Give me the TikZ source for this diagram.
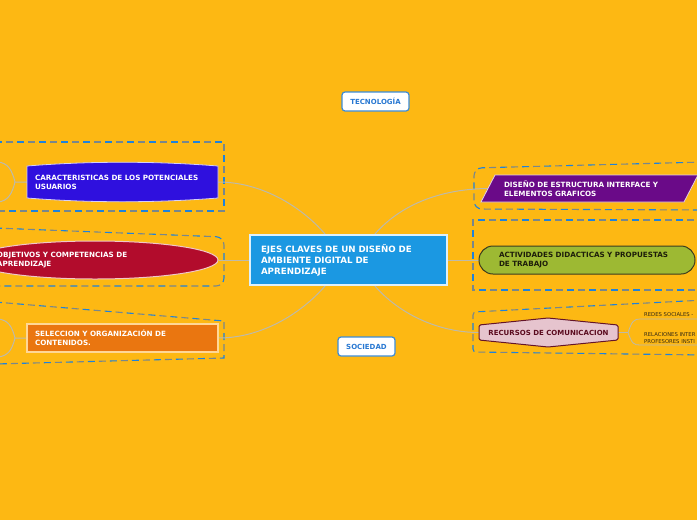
\documentclass[tikz,border=0pt]{standalone}
\usepackage{fontspec}
\setmainfont{DejaVu Sans}
\usetikzlibrary{shapes.geometric,calc}
\definecolor{bgcol}{RGB}{253,184,19}
\definecolor{centralcol}{RGB}{27,152,226}
\definecolor{cAcol}{RGB}{47,16,222}
\definecolor{cBcol}{RGB}{178,12,44}
\definecolor{cBborder}{RGB}{240,200,200}
\definecolor{cCcol}{RGB}{234,118,16}
\definecolor{cCborder}{RGB}{255,215,150}
\definecolor{cDcol}{RGB}{106,10,136}
\definecolor{cEcol}{RGB}{157,185,51}
\definecolor{cEborder}{RGB}{60,60,30}
\definecolor{cEtext}{RGB}{30,30,10}
\definecolor{cFcol}{RGB}{230,196,206}
\definecolor{cFborder}{RGB}{100,20,40}
\definecolor{cFtext}{RGB}{90,10,30}
\definecolor{conncol}{RGB}{190,186,170}
\definecolor{dashblue}{RGB}{30,130,220}
\definecolor{dashgrey}{RGB}{120,135,140}
\definecolor{tagblue}{RGB}{60,140,215}
\definecolor{tagtext}{RGB}{40,120,210}
\definecolor{smalltext}{RGB}{50,40,20}
\pgfdeclarelayer{bg}
\pgfdeclarelayer{lines}
\pgfsetlayers{bg,lines,main}
\begin{document}
\begin{tikzpicture}[x=1pt,y=-1pt,
  conn/.style={draw=conncol, line width=1pt},
  dashbox/.style={draw=dashgrey, line width=1.1pt, dash pattern=on 7pt off 15pt, dash phase=11pt,
    preaction={draw=dashblue, line width=1.1pt, dash pattern=on 7pt off 15pt, dash phase=0pt}},
  txt/.style={font=\bfseries\fontsize{7.2}{9}\selectfont, align=left, inner sep=0pt, text width=#1},
  tagbox/.style={draw=tagblue, fill=white, line width=1.2pt, rounded corners=3pt, text=tagtext,
    font=\bfseries\fontsize{7}{8}\selectfont, inner sep=0pt},
  small/.style={font=\fontsize{5.3}{7}\selectfont, text=smalltext, inner sep=0pt, align=left}
]
\useasboundingbox (0,0) rectangle (697,520);
\begin{pgfonlayer}{bg}
\fill[bgcol] (0,0) rectangle (697,520);
\path[dashbox] (-5,142) -- (224,142) -- (224,211) -- (-5,211);
\path[dashbox, rounded corners=8pt] (-5,228) -- (224,237) -- (224,286) -- (-5,286);
\path[dashbox] (-5,302) -- (224,321) -- (224,358) -- (-5,364);
\path[dashbox, rounded corners=8pt] (705,162) -- (474,168) -- (474,209) -- (705,210);
\path[dashbox] (705,220) -- (473,220) -- (473,290) -- (705,290);
\path[dashbox, rounded corners=3pt] (705,300) -- (473,312) -- (473,352) -- (705,355);
\end{pgfonlayer}

% central
\node[fill=centralcol, draw=white!85!centralcol, line width=1.2pt, minimum width=197pt, minimum height=50pt,
  inner sep=0pt, text=white, font=\bfseries\fontsize{8.7}{11}\selectfont, align=left, text width=175pt]
  (center) at (348.5,260) {EJES CLAVES DE UN DISEÑO DE\\AMBIENTE DIGITAL DE\\APRENDIZAJE};

% left 1
\fill[cAcol, draw=white!80!cAcol, line width=0.8pt] (27,166) .. controls (90,161) and (155,161) .. (218,166)
  -- (218,198) .. controls (155,203) and (90,203) .. (27,198) -- cycle;
\node[txt=175pt, text=white, minimum width=191pt, minimum height=37pt] (cA) at (122.5,182) {CARACTERISTICAS DE LOS POTENCIALES\\USUARIOS};

% left 2
\node[ellipse, fill=cBcol, draw=cBborder, line width=1pt, minimum width=246pt, minimum height=38pt, inner sep=0pt] (cB) at (95,260) {};
\node[txt=196pt, text=white] (cBt) at (95,260.5) {OBJETIVOS Y COMPETENCIAS DE\\APRENDIZAJE};

% left 3
\node[fill=cCcol, draw=cCborder, line width=1.2pt, minimum width=191pt, minimum height=28pt, txt=175pt, text=white] (cC) at (122.5,338) {SELECCION Y ORGANIZACIÓN DE\\CONTENIDOS.};

% right 1
\fill[cDcol, draw=white!80!cDcol, line width=0.8pt] (481,202) -- (495,175) -- (698,175) -- (684,202) -- cycle;
\node[txt=177pt, text=white, minimum width=209pt, minimum height=27pt] (cD) at (592.5,188.5) {DISEÑO DE ESTRUCTURA INTERFACE Y\\ELEMENTOS GRAFICOS};

% right 2
\node[fill=cEcol, draw=cEborder, line width=1pt, rounded corners=14pt, minimum width=216pt, minimum height=28pt, txt=176pt, text=cEtext] (cE) at (587,260) {ACTIVIDADES DIDACTICAS Y PROPUESTAS\\DE TRABAJO};

% right 3
\fill[cFcol, draw=cFborder, line width=1pt, rounded corners=1.5pt] (479,325) -- (548,318) -- (618,325) -- (618,340) -- (548,347) -- (479,340) -- cycle;
\node[font=\bfseries\fontsize{7}{9}\selectfont, text=cFtext, minimum width=139pt, minimum height=22pt, inner sep=0pt] (cF) at (548.5,332.5) {RECURSOS DE COMUNICACION};

\node[small, anchor=base west] (r1) at (644,316) {REDES SOCIALES -};
\node[small, anchor=west] (r2) at (644,337.8) {RELACIONES INTER\\PROFESORES INSTI};

% floating tags
\node[tagbox, minimum width=67pt, minimum height=19pt] (tec) at (375.5,101.5) {TECNOLOGÍA};
\node[tagbox, minimum width=57pt, minimum height=19pt] (soc) at (366.5,346.5) {SOCIEDAD};

\begin{pgfonlayer}{lines}
\draw[conn] ($(center.north west)+(76,0)$) .. controls (300,205) and (260,182) .. (cA.east);
\draw[conn] (center.west) -- (cB.east);
\draw[conn] ($(center.south west)+(76,0)$) .. controls (300,315) and (260,338) .. (cC.east);
\draw[conn] ($(center.north east)+(-73,0)$) .. controls (400,205) and (440,189) .. (cD.west);
\draw[conn] (center.east) -- (cE.west);
\draw[conn] ($(center.south east)+(-73,0)$) .. controls (400,315) and (440,332.5) .. (cF.west);
% forks
\coordinate (fA) at (15,182);
\draw[conn] (cA.west) -- (fA) .. controls (12,170) and (8,163) .. (-2,162);
\draw[conn] (fA) .. controls (12,194) and (8,201) .. (-2,202);
\coordinate (fC) at (15,338);
\draw[conn] (cC.west) -- (fC) .. controls (12,326) and (8,320) .. (-2,319);
\draw[conn] (fC) .. controls (12,350) and (8,356) .. (-2,357);
\coordinate (fF) at (628,332.5);
\coordinate (eF1) at (700,319);
\coordinate (eF2) at (700,345);
\draw[conn, line width=0.8pt] (cF.east) -- (fF) .. controls (632,321) and (634,319) .. (640,319) -- (eF1);
\draw[conn, line width=0.8pt] (fF) .. controls (632,344) and (634,345) .. (640,345) -- (eF2);
\end{pgfonlayer}
\end{tikzpicture}
\end{document}
